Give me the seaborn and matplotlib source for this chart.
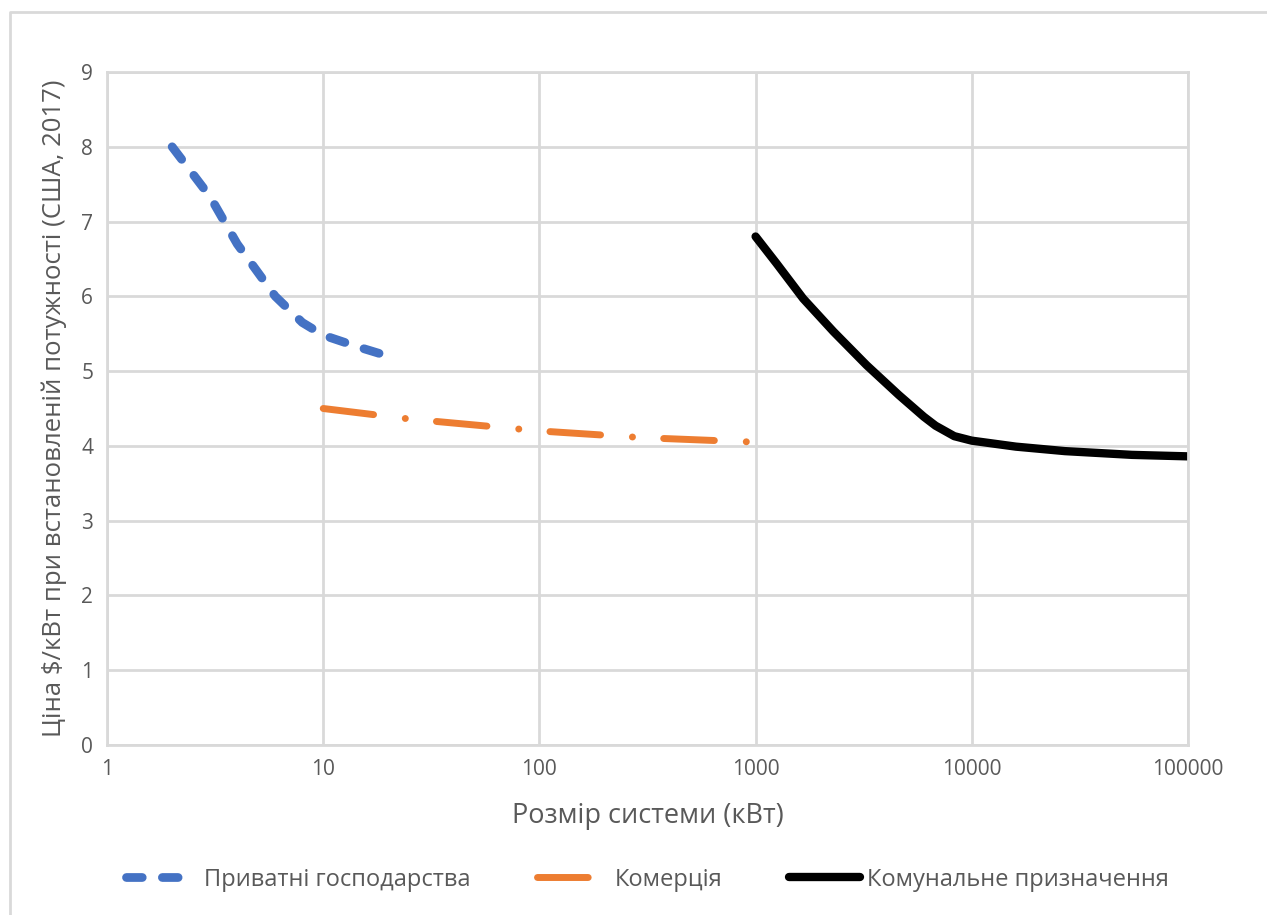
import matplotlib
matplotlib.use("Agg")
import matplotlib.pyplot as plt
import pandas as pd
import seaborn as sns
from matplotlib.lines import Line2D

# series
private_x = [2, 3, 4, 6, 8, 10, 15, 20]
private_y = [8.0, 7.33, 6.7, 6.0, 5.65, 5.48, 5.31, 5.2]

commerce_x = [10, 25, 100, 300, 1000]
commerce_y = [4.5, 4.36, 4.2, 4.11, 4.05]

utility_x = [1000, 1250, 1660, 2290, 3260, 4600, 6000, 6800, 8300, 10000,
             16000, 27000, 55000, 100000]
utility_y = [6.8, 6.44, 5.97, 5.53, 5.08, 4.68, 4.39, 4.27, 4.13, 4.07,
             3.99, 3.93, 3.88, 3.86]

series_names = ["Приватні господарства", "Комерція", "Комунальне призначення"]
x_ticks = [1, 10, 100, 1000, 10000, 100000]
y_ticks = list(range(0, 10))

sns.set_style("white")
plt.rcParams["font.family"] = ["Open Sans", "DejaVu Sans"]

text_color = "#595959"
grid_color = "#d9d9d9"

fig = plt.figure(figsize=(12.67, 9.15), dpi=100)
ax = fig.add_axes([0.0845, 0.1858, 0.8531, 0.7355])

private_df = pd.DataFrame({"x": private_x, "y": private_y})
commerce_df = pd.DataFrame({"x": commerce_x, "y": commerce_y})
utility_df = pd.DataFrame({"x": utility_x, "y": utility_y})

sns.lineplot(data=private_df, x="x", y="y", ax=ax, color="#4472C4", lw=6.3,
             linestyle=(0, (1.8, 2.3)), dash_capstyle="round",
             label=series_names[0])
sns.lineplot(data=commerce_df, x="x", y="y", ax=ax, color="#ED7D31", lw=5,
             linestyle=(0, (7.3, 4.6, 0.01, 4.5)), dash_capstyle="round",
             label=series_names[1])
sns.lineplot(data=utility_df, x="x", y="y", ax=ax, color="black", lw=6,
             solid_capstyle="round", solid_joinstyle="round",
             label=series_names[2])

ax.set_xscale("log")
ax.set_xlim(1, 100000)
ax.set_ylim(0, 9)
ax.set_xticks(x_ticks)
ax.set_xticklabels([str(t) for t in x_ticks])
ax.set_yticks(y_ticks)
ax.minorticks_off()
ax.grid(True, color=grid_color, lw=2)
ax.set_axisbelow(True)
for spine in ax.spines.values():
    spine.set_color(grid_color)
    spine.set_linewidth(2)
ax.tick_params(colors=text_color, labelsize=15, length=0, pad=10)

ax.set_xlabel("Розмір системи (кВт)", fontsize=19.5, color=text_color, labelpad=16)
ax.set_ylabel("Ціна $/кВт при встановленій потужності (США, 2017)", fontsize=18.5,
              color=text_color, labelpad=10)

leg = ax.legend(loc="center", bbox_to_anchor=(0.5, -0.2), ncol=3, frameon=False,
                fontsize=17, handlelength=3, columnspacing=2.8, handletextpad=0.3)
for txt in leg.get_texts():
    txt.set_color(text_color)

# chart-area border: only the left and top edges show in the reference
fig.add_artist(Line2D([0.0075, 0.0075, 1.0], [0.0, 0.9866, 0.9866],
                      transform=fig.transFigure, color=grid_color, lw=2))

fig.savefig("out.png", dpi=100)
